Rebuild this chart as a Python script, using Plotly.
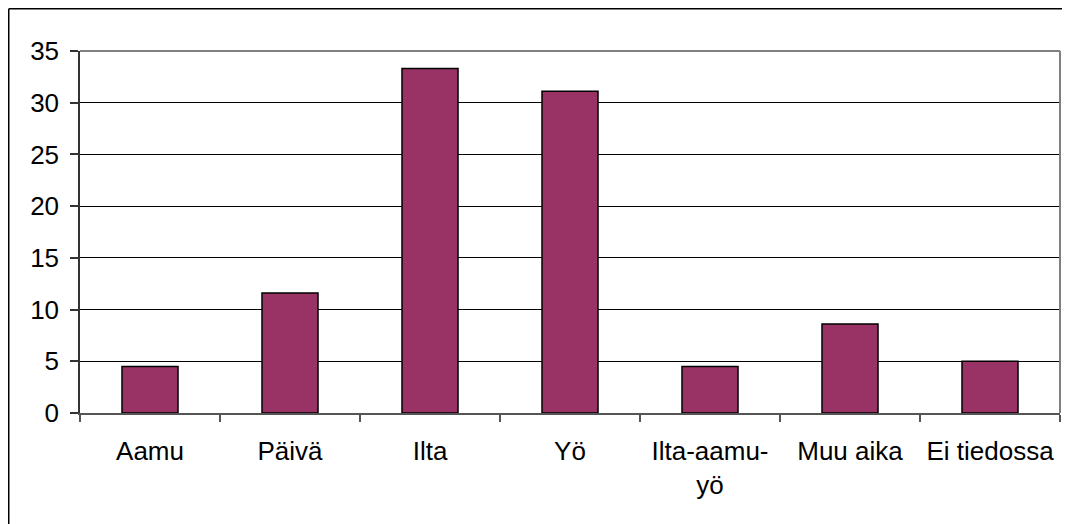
import plotly.graph_objects as go

categories = ["Aamu", "Päivä", "Ilta", "Yö", "Ilta-aamu-<br>yö", "Muu aika", "Ei tiedossa"]
values = [4.5, 11.6, 33.3, 31.1, 4.5, 8.6, 5.0]
y_ticks = [0, 5, 10, 15, 20, 25, 30, 35]

# The page has an 8px body margin, so figure pixel = page pixel - 8
W, H = 1070, 524
L, R, T, B = 72, 18, 43, 119
pw, ph = W - L - R, H - T - B

def px2x(p):
    return (p - L) / pw

def py2y(p):
    return (H - B - p) / ph

font = dict(family="Liberation Sans, Arial, sans-serif", size=26, color="black")

fig = go.Figure(
    go.Bar(
        x=categories,
        y=values,
        marker=dict(color="#993366", line=dict(color="black", width=1.5)),
        width=0.4,
    )
)

fig.update_layout(
    width=W,
    height=H,
    margin=dict(l=L, r=R, t=T, b=B),
    paper_bgcolor="white",
    plot_bgcolor="white",
    showlegend=False,
    font=font,
    bargap=0.6,
    xaxis=dict(
        showgrid=False,
        showline=True,
        linecolor="#555555",
        linewidth=1.5,
        ticks="outside",
        tickson="boundaries",
        ticklen=7,
        tickcolor="#555555",
        tickwidth=1.5,
        tickfont=font,
        ticklabelstandoff=14,
    ),
    yaxis=dict(
        range=[0, 35],
        tickvals=y_ticks,
        showgrid=True,
        gridcolor="black",
        gridwidth=1,
        showline=True,
        linecolor="#333333",
        linewidth=1.5,
        ticks="outside",
        ticklen=8,
        tickcolor="#333333",
        tickwidth=1.5,
        tickfont=font,
        zeroline=False,
        ticklabelstandoff=6,
    ),
    shapes=[
        # plot area border (top and right)
        dict(type="line", xref="paper", yref="paper", x0=0, x1=1, y0=1, y1=1,
             line=dict(color="#808080", width=2)),
        dict(type="line", xref="paper", yref="paper", x0=1, x1=1, y0=0, y1=1,
             line=dict(color="#808080", width=2)),
        # outer chart frame
        dict(type="line", xref="paper", yref="paper", x0=px2x(0.75), x1=px2x(1075),
             y0=py2y(0.75), y1=py2y(0.75), line=dict(color="black", width=1.5)),
        dict(type="line", xref="paper", yref="paper", x0=px2x(0.75), x1=px2x(0.75),
             y0=py2y(0.75), y1=py2y(530), line=dict(color="black", width=1.5)),
    ],
)

fig.write_html("out.html")
